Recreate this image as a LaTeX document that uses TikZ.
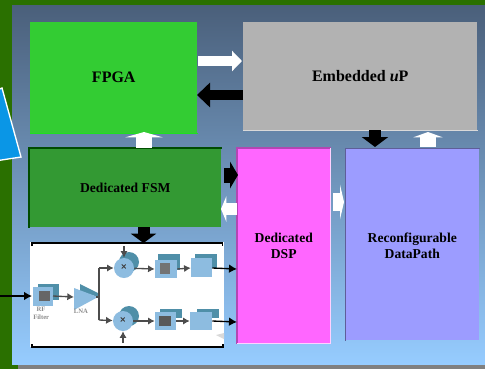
\documentclass[tikz,border=0pt]{standalone}
\usepackage{fontspec}
\setmainfont{Liberation Serif}
\usetikzlibrary{arrows.meta}
\definecolor{bggreen}{HTML}{2A7000}
\definecolor{paneltop}{HTML}{4A5F7A}
\definecolor{panelbot}{HTML}{96CCFF}
\definecolor{fpgagreen}{HTML}{33CC33}
\definecolor{fsmgreen}{HTML}{339933}
\definecolor{upgrey}{HTML}{B2B2B2}
\definecolor{dsppink}{HTML}{FF66FF}
\definecolor{rdpblue}{HTML}{9C9CFF}
\definecolor{wedge}{HTML}{0A96E6}
\definecolor{blockblue}{HTML}{8DBCE0}
\definecolor{blockdark}{HTML}{4F8FA8}
\tikzset{
  unitbox/.style={draw=none,inner sep=0pt,align=center,font=\bfseries\fontsize{12pt}{12pt}\selectfont},
  smalltxt/.style={font=\bfseries\fontsize{10.2pt}{12pt}\selectfont},
  thinsig/.style={-{Latex[length=6pt,width=6.5pt]},line width=1pt,black},
  innersig/.style={-{Latex[length=5pt,width=5.5pt]},line width=1pt,black!70},
}
\begin{document}
\begin{tikzpicture}[x=0.75pt,y=-0.75pt]
\useasboundingbox (0,0) rectangle (485,369);
\fill[bggreen] (0,0) rectangle (485,369);
\fill[gray] (18,364) rectangle (485,369);
\shade[top color=paneltop,bottom color=panelbot] (12,5) rectangle (485,364);
% left wedge
\draw[fill=wedge,draw=white,line width=1pt] (-5,91) -- (2,88) -- (21,157) -- (-5,161) -- cycle;
% blocks
\node[unitbox,fill=fpgagreen,minimum width=167pt*0.75,minimum height=111pt*0.75,anchor=north west] (fpga) at (30,22) {FPGA};
\node[unitbox,fill=upgrey,minimum width=234pt*0.75,minimum height=108pt*0.75,anchor=north west] (up) at (243,22) {Embedded \textit{u}P};
\node[unitbox,smalltxt,fill=fsmgreen,minimum width=192pt*0.75,minimum height=79pt*0.75,anchor=north west] (fsm) at (29,148) {Dedicated FSM};
\node[unitbox,smalltxt,fill=dsppink,minimum width=93pt*0.75,minimum height=195pt*0.75,anchor=north west] (dsp) at (237,148) {Dedicated\\DSP};
\node[unitbox,smalltxt,fill=rdpblue,minimum width=134pt*0.75,minimum height=192pt*0.75,anchor=north west,text depth=0pt] (rdp) at (345,148) {\raisebox{-1.5pt}{Reconfigurable}\\\raisebox{-1.5pt}{DataPath}};
\draw[black!70!green,line width=0.8pt] (fsm.south west) -- (fsm.north west) -- (fsm.north east);
\draw[green!40!fpgagreen,line width=0.6pt] (fpga.south west) -- (fpga.south east);
\draw[white!85!black,line width=0.6pt] (up.south west) -- (up.south east);
\draw[rdpblue!60!black,line width=0.6pt] (rdp.south west) -- (rdp.north west) -- (rdp.north east);
\draw[dsppink!70!black,line width=0.8pt] (dsp.south west) -- (dsp.north west) -- (dsp.north east);
\draw[white!70!dsppink,line width=0.8pt] (dsp.north east) -- (dsp.south east) -- (dsp.south west);
% free ends of the fat arrows
\coordinate (fu1) at (198,61);
\coordinate (fu2) at (242,61);
\coordinate (uf1) at (243,95);
\coordinate (uf2) at (197,95);
\coordinate (ff1) at (144,148);
\coordinate (ff2) at (144,132);
\coordinate (ur1) at (375,130);
\coordinate (ur2) at (375,147);
\coordinate (ru1) at (428,147);
\coordinate (ru2) at (428,132);
\coordinate (fd1) at (224,175);
\coordinate (fd2) at (238,175);
\coordinate (df1) at (237,209);
\coordinate (df2) at (221,209);
\coordinate (dr1) at (333,202);
\coordinate (dr2) at (344,202);
\coordinate (fb1) at (143.5,227);
\coordinate (fb2) at (143.5,243);
% fat arrows
\draw[-{Triangle[length=7.5pt,width=15pt]},line width=7.5pt,white] (fu1) -- (fu2);
\draw[-{Triangle[length=9.75pt,width=18pt]},line width=7pt,black] (uf1) -- (uf2);
\draw[-{Triangle[length=4pt,width=28pt]},line width=12pt,white] (ff1) -- (ff2);
\draw[-{Triangle[length=7.5pt,width=19.5pt]},line width=9pt,black] (ur1) -- (ur2);
\draw[-{Triangle[length=4pt,width=22pt]},line width=12pt,white] (ru1) -- (ru2);
\draw[-{Triangle[length=6pt,width=20pt]},line width=11.25pt,black] (fd1) -- (fd2);
\draw[-{Triangle[length=4pt,width=19pt]},line width=9.5pt,white] (df1) -- (df2);
\draw[-{Triangle[length=3pt,width=26pt]},line width=13pt,white] (dr1) -- (dr2);
\draw[-{Triangle[length=7pt,width=18.75pt]},line width=9pt,black] (fb1) -- (fb2);
% radio block
\node[fill=white,draw=none,minimum width=194pt*0.75,minimum height=105pt*0.75,inner sep=0pt,anchor=north west] (radio) at (30,242) {};
\draw[black,line width=0.8pt] (32,246) -- (32,243) -- (222.5,243) -- (222.5,246);
\draw[black,line width=0.8pt] (32,344) -- (32,347) -- (223,347) -- (223,344);
% inner signal blocks
\fill[blockdark] (38,284) rectangle (59,300);
\fill[blockblue] (33,287) rectangle (53,306);
\fill[black!60] (39,291) rectangle (50,301);
\fill[blockdark] (80,284) -- (98,293) -- (98,297) -- (80,291) -- cycle;
\fill[blockblue] (74,288) -- (98,297) -- (74,310) -- cycle;
\coordinate (lna) at (74,297);
\coordinate (lnaout) at (99,297);
\coordinate (split) at (99,268);
\coordinate (split2) at (99,320);
\fill[blockdark] (129,262) circle (10);
\node[circle,fill=blockblue,minimum size=15pt,inner sep=0pt,font=\bfseries\fontsize{8pt}{8pt}\selectfont,text=black!75] (mix1) at (124,268) {×};
\fill[blockdark] (129,316) circle (10);
\node[circle,fill=blockblue,minimum size=15pt,inner sep=0pt,font=\bfseries\fontsize{8pt}{8pt}\selectfont,text=black!75] (mix2) at (123,321) {×};
\fill[blockdark] (158,254) rectangle (180,270);
\fill[blockblue] (155,260) rectangle (177,278);
\fill[black!55] (160,263) rectangle (170,274);
\node[inner sep=0pt,minimum width=22pt*0.75,minimum height=18pt*0.75] (f1) at (166,269) {};
\fill[blockdark] (160,309) rectangle (182,318);
\fill[blockblue] (155,312) rectangle (176,330);
\fill[black!65] (159,316) rectangle (171,326);
\node[inner sep=0pt,minimum width=21pt*0.75,minimum height=18pt*0.75] (f2) at (165.5,321) {};
\fill[blockdark] (195,254) rectangle (217,268);
\fill[blockblue] (191,258) rectangle (212,277);
\node[inner sep=0pt,minimum width=21pt*0.75,minimum height=19pt*0.75] (a1) at (201.5,268) {};
\fill[blockdark] (197,309) rectangle (219,318);
\fill[blockblue] (190,312) rectangle (212,330);
\node[inner sep=0pt,minimum width=22pt*0.75,minimum height=18pt*0.75] (a2) at (201,321) {};
\node[inner sep=0pt,font=\bfseries\fontsize{5pt}{6pt}\selectfont,text=black!45,align=left,anchor=north west] (rftext) at (33,307) {\ \ RF\\Filter};
\node[inner sep=0pt,font=\bfseries\fontsize{5pt}{6pt}\selectfont,text=black!45] (lnatext) at (81,311) {LNA};
\fill[black!15] (216,335) -- (224,339) -- (224,333) -- cycle;
% inner connectors
\coordinate (rfin) at (0,296);
\coordinate (rfw) at (32,296);
\coordinate (rfe) at (53,296);
\draw[thinsig] (rfin) -- (rfw);
\draw[innersig] (rfe) -- (lna);
\draw[black!70,line width=1pt] (split) -- (split2);
\draw[black!70,line width=1pt] (lnaout) -- (96,297);
\draw[innersig] (split) -- (mix1);
\draw[innersig] (split2) -- (mix2);
\coordinate (t1) at (124,246);
\coordinate (t2) at (123,343);
\draw[innersig] (t1) -- (mix1);
\draw[innersig] (t2) -- (mix2);
\draw[innersig] (mix1) -- (f1.west);
\draw[innersig] (mix2) -- (f2.west);
\draw[innersig] (f1.east) -- (a1.west);
\draw[innersig] (f2.east) -- (a2.west);
\coordinate (s1) at (237,269);
\coordinate (s2) at (237,322);
\draw[thinsig] (a1.east) -- (s1);
\draw[thinsig] (a2.east) -- (s2);
\node[font=\bfseries\fontsize{8pt}{8pt}\selectfont,text=black!75,inner sep=0pt] at (mix1) {×};
\node[font=\bfseries\fontsize{8pt}{8pt}\selectfont,text=black!75,inner sep=0pt] at (mix2) {×};
\end{tikzpicture}
\end{document}
